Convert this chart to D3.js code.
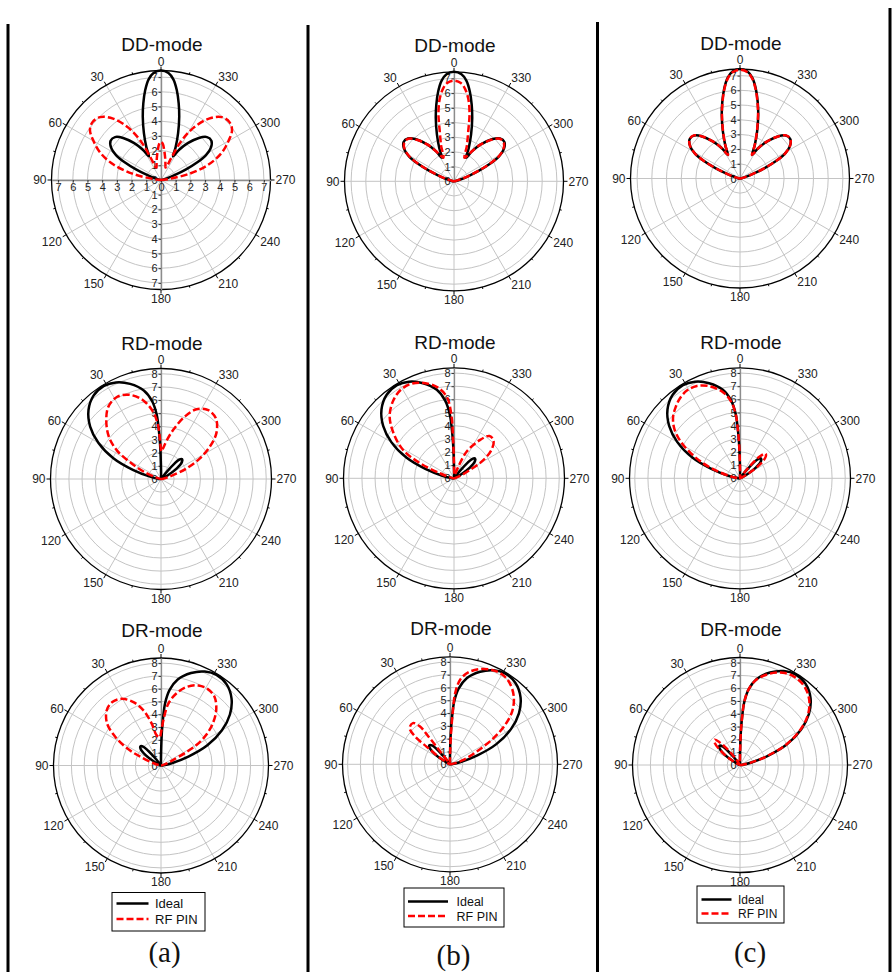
<!DOCTYPE html>
<html>
<head>
<meta charset="utf-8">
<script src="https://cdn.jsdelivr.net/npm/d3@7"></script>
<style>
  body { margin: 0; background: #fff; }
  svg { display: block; font-family: "Liberation Sans", Arial, sans-serif; }
</style>
</head>
<body>
<div id="chart"></div>
<script>
// angles are in degrees, counter-clockwise from the top (0 = up, 90 = left, 270 = right)
var angleTicks = [0, 30, 60, 90, 120, 150, 180, 210, 240, 270, 300, 330];
var modes = ["DD-mode", "RD-mode", "DR-mode"];
var columnLabels = ["(a)", "(b)", "(c)"];
var seriesNames = ["Ideal", "RF PIN"];
var radialMax = [7.45, 8.4, 8.4];

// ideal patterns (same in all three columns), [angle, value]
var ddIdeal = [[270,0],[280,0.1],[286,0.45],[290,1.05],[293,1.85],[296,2.75],[299,3.5],[303,4.05],[308,4.35],[313,4.28],[318,3.85],[324,3.1],[329,2.4],[333,1.8],[336,2.45],[340,3.4],[344,4.5],[347,5.35],[350,6.2],[353,6.9],[356,7.3],
  [0,7.45],[4,7.3],[7,6.9],[10,6.2],[13,5.35],[16,4.5],[20,3.4],[24,2.45],[27,1.8],[31,2.4],[36,3.1],[42,3.85],[47,4.28],[52,4.35],[57,4.05],[61,3.5],[64,2.75],[67,1.85],[70,1.05],[74,0.45],[80,0.1],[90,0]];

var rdIdeal = [[270,0],[290,0.02],[296,0.15],[299,0.6],[304,1.45],[309,2.05],[313,2.2],[317,2.0],[319,1.5],[321,0.8],[324,0.15],[330,0.02],[355,0.02],[358.5,0.2],
  [0.5,1.2],[1.5,2.6],[2.5,3.7],[3.8,4.9],[6.5,5.95],[11,6.85],[18,7.6],[25,8.1],[31.5,8.3],[39,8.15],[46.5,7.6],[53.5,6.7],[60,5.5],[66.5,3.95],[72,2.25],[78,0.85],[84,0.2],[90,0]];

var drIdeal = [[270,0],[276,0.2],[282,0.85],[288,2.25],[293.5,3.95],[300,5.5],[306.5,6.7],[313.5,7.6],[321,8.15],[328.5,8.3],[335,8.1],[342,7.6],[349,6.85],[353.5,5.95],[356.2,4.9],[357.5,3.7],[358.5,2.6],[359.5,1.2],
  [1.5,0.2],[5,0.02],[30,0.02],[36,0.15],[39,0.8],[41,1.5],[43,2.0],[47,2.2],[51,2.05],[56,1.45],[61,0.6],[64,0.15],[70,0.02],[90,0]];

// RF PIN patterns, one per panel
var ddPinA = [[270,0],[274,0.15],[278,0.65],[282.5,2.0],[288,3.4],[294,4.5],[300,5.3],[305,5.9],[310,6.1],[316,5.95],[322,5.3],[328,4.2],[332.5,3.0],[335,1.7],[337,1.0],[340,0.9],[344,1.1],[348,1.4],[351,1.7],[354,2.05],[357,2.45],
  [0,2.6],[3,2.45],[6,2.05],[9,1.7],[12,1.4],[16,1.1],[20,0.9],[23,1.0],[25,1.7],[27.5,3.0],[32,4.2],[38,5.3],[44,5.95],[50,6.1],[55,5.9],[60,5.3],[66,4.5],[72,3.4],[77.5,2.0],[82,0.65],[86,0.15],[90,0]];

var ddPinB = [[270,0],[280,0.1],[286,0.4],[290,1.0],[293,1.8],[296,2.7],[299,3.45],[303,4.0],[308,4.3],[313,4.25],[318,3.8],[324,3.1],[329,2.4],[332,2.0],[336,1.75],[340,2.55],[344,3.5],[347,4.7],[350,5.65],[353,6.3],[356,6.7],
  [0,6.85],[4,6.7],[7,6.3],[10,5.65],[13,4.7],[16,3.5],[20,2.55],[24,1.75],[28,2.0],[31,2.4],[36,3.1],[42,3.8],[47,4.25],[52,4.3],[57,4.0],[61,3.45],[64,2.7],[67,1.8],[70,1.0],[74,0.4],[80,0.1],[90,0]];

var ddPinC = [[270,0],[280,0.1],[286,0.45],[290,1.05],[293,1.85],[296,2.75],[299,3.5],[303,4.05],[308,4.35],[313,4.3],[318,3.85],[324,3.1],[329,2.4],[333,1.8],[336,2.45],[340,3.35],[344,4.45],[347,5.3],[350,6.15],[353,6.85],[356,7.25],
  [0,7.4],[4,7.25],[7,6.85],[10,6.15],[13,5.3],[16,4.45],[20,3.35],[24,2.45],[27,1.8],[31,2.4],[36,3.1],[42,3.85],[47,4.3],[52,4.35],[57,4.05],[61,3.5],[64,2.75],[67,1.85],[70,1.05],[74,0.45],[80,0.1],[90,0]];

var rdPinA = [[270,0],[280,0.15],[284,0.45],[288,1.0],[292.5,2.1],[298,3.35],[303.5,4.45],[309.5,5.45],[317.5,6.2],[325.5,6.35],[333,5.95],[339,5.1],[346,3.85],[352,2.9],[356,2.35],[359,2.1],
  [1.5,3.0],[3,4.0],[6.5,5.1],[12.5,6.1],[20,6.8],[28,7.08],[36,6.8],[43,6.1],[51,5.1],[57,4.0],[62,2.55],[68,1.2],[73,0.35],[80,0.05],[90,0]];

var rdPinB = [[270,0],[285,0.1],[291,0.5],[297.5,1.35],[301,2.45],[307,3.55],[313.5,4.15],[320,4.2],[326,3.5],[334.5,2.25],[339.5,0.95],[344,0.35],[352,0.25],[358,0.4],
  [0.5,1.6],[1.5,3.3],[2.2,4.65],[5,6.2],[10.5,7.05],[17.5,7.6],[24,7.88],[31,7.85],[38,7.5],[46,6.8],[53.5,5.7],[61,4.4],[66,2.85],[70.5,1.15],[76,0.3],[85,0.05],[90,0]];

var rdPinC = [[270,0],[290,0.02],[296,0.2],[300,0.8],[305,1.9],[310,2.55],[314,2.7],[318,2.2],[320,1.6],[322,0.9],[325,0.2],[330,0.02],[355,0.02],[358.5,0.2],
  [0.5,1.2],[1.5,2.6],[2.5,3.7],[3.8,4.85],[6.5,5.85],[11,6.65],[18,7.35],[25,7.75],[31,7.8],[37,7.6],[42,7.3],[47.5,6.9],[53,6.25],[58,5.35],[63,4.2],[67.5,3.1],[72,1.95],[78,0.75],[84,0.15],[90,0]];

var drPinA = [[270,0],[280,0.05],[288,0.35],[292,0.7],[295,1.1],[297.5,2.1],[300,3.2],[304,4.25],[309,5.2],[315,6.1],[322,6.8],[328.5,7.0],[335,6.9],[342,6.45],[348,5.75],[353.3,4.85],[357,3.55],[359.5,2.7],
  [3,2.2],[8.5,2.4],[12.5,3.35],[17.5,4.5],[23.5,5.4],[30.5,6.05],[37.5,6.25],[44.5,6.05],[52,5.35],[58,4.2],[63,3.0],[67,1.75],[73,0.6],[80,0.1],[90,0]];

var drPinB = [[270,0],[280,0.2],[288,1.1],[295.5,2.3],[300.5,3.8],[305,5.15],[310.5,6.4],[317,7.3],[324,7.9],[330,8.12],[336,8.07],[342.5,7.8],[348.5,7.35],[353,6.7],[355.8,5.6],[357,4.0],[358,2.6],[359,1.2],
  [0.5,0.3],[10,0.05],[34,0.2],[37.5,1.3],[37.8,2.6],[38.5,3.8],[42,4.33],[48,4.24],[51.5,3.5],[53,2.3],[56.5,1.1],[60,0.35],[66,0.05],[90,0]];

var drPinC = [[270,0],[276,0.2],[282,0.8],[288,2.15],[293.5,3.85],[300,5.4],[306.5,6.6],[313.5,7.45],[321,7.95],[328.5,8.1],[335,7.95],[342,7.5],[349,6.8],[353.5,5.95],[356.2,4.9],[357.5,3.7],[358.5,2.6],[359.5,1.2],
  [1.5,0.2],[5,0.02],[30,0.02],[33,0.2],[36,0.9],[39,1.7],[42,2.4],[45,2.8],[49,2.6],[53,2.0],[57,1.3],[61,0.6],[65,0.1],[70,0.02],[90,0]];

var idealSeries = [ddIdeal, rdIdeal, drIdeal];
var pinSeries = [[ddPinA, ddPinB, ddPinC], [rdPinA, rdPinB, rdPinC], [drPinA, drPinB, drPinC]];

var svgWidth = 894;
var svgHeight = 972;
// outer radius of each row's polar plots
var rowRadius = [109.5, 110.5, 107.5];

var svg = d3.select("#chart")
  .append("svg")
  .attr("width", svgWidth)
  .attr("height", svgHeight);

// panel centres, row = mode, col = (a)(b)(c)
var centres = [
  [[161, 180], [454, 181.3], [740, 178.5]],
  [[161, 479], [454, 478.3], [740, 478.3]],
  [[161, 765.5], [450, 764.3], [740, 765]]
];

// column separators
var separators = [[8, 24], [308, 25], [597.5, 22], [890, 8]];
svg.selectAll(".sep")
  .data(separators)
  .enter()
  .append("line")
  .attr("x1", d => d[0]).attr("x2", d => d[0])
  .attr("y1", d => d[1]).attr("y2", svgHeight)
  .attr("stroke", "#000")
  .attr("stroke-width", 3);

var angle = d3.scaleLinear().domain([0, 360]).range([0, -2 * Math.PI]);

function px(deg, rad) { return rad * Math.sin(angle(deg)); }
function py(deg, rad) { return -rad * Math.cos(angle(deg)); }

function drawPanel(row, col) {
  var c = centres[row][col];
  var rmax = radialMax[row];
  var R = rowRadius[row];
  var radius = d3.scaleLinear().domain([0, rmax]).range([0, R]);
  var g = svg.append("g").attr("transform", `translate(${c[0]}, ${c[1]})`);

  // title
  g.append("text")
    .attr("x", 1)
    .attr("y", -129)
    .attr("text-anchor", "middle")
    .attr("font-size", 19)
    .attr("fill", "#111")
    .text(modes[row]);

  // grid rings
  g.append("g").selectAll("circle")
    .data(d3.range(1, Math.floor(rmax) + 1))
    .enter()
    .append("circle")
    .attr("r", d => radius(d))
    .attr("fill", "none")
    .attr("stroke", "#c4c4c4")
    .attr("stroke-width", 1);

  // spokes
  g.append("g").selectAll("line")
    .data(angleTicks)
    .enter()
    .append("line")
    .attr("x2", d => px(d, R))
    .attr("y2", d => py(d, R))
    .attr("stroke", "#c4c4c4")
    .attr("stroke-width", 1);

  // outer circle with ticks
  g.append("circle")
    .attr("r", R)
    .attr("fill", "none")
    .attr("stroke", "#000")
    .attr("stroke-width", 1.3);

  g.append("g").selectAll("line")
    .data(d3.range(0, 360, 15))
    .enter()
    .append("line")
    .attr("x1", d => px(d, R))
    .attr("y1", d => py(d, R))
    .attr("x2", d => px(d, R + (d % 30 === 0 ? 4 : 2)))
    .attr("y2", d => py(d, R + (d % 30 === 0 ? 4 : 2)))
    .attr("stroke", "#000")
    .attr("stroke-width", 1);

  // angle labels
  g.append("g").selectAll("text")
    .data(angleTicks)
    .enter()
    .append("text")
    .attr("x", d => px(d, R + 5))
    .attr("y", d => py(d, R + 5))
    .attr("text-anchor", function(d) {
      var s = Math.sin(angle(d));
      return s < -0.1 ? "end" : (s > 0.1 ? "start" : "middle");
    })
    .attr("dy", function(d) {
      var k = Math.cos(angle(d));
      return k > 0.7 ? "0" : (k < -0.3 ? "0.7em" : "0.35em");
    })
    .attr("font-size", 12)
    .attr("fill", "#222")
    .text(d => d);

  // radial axis
  if (row === 0 && col === 0) {
    var vScale = d3.scaleLinear().domain([-rmax, rmax]).range([R, -R]);
    var hScale = d3.scaleLinear().domain([-rmax, rmax]).range([-R, R]);
    var ticks = d3.range(-7, 8);
    var vAxis = g.append("g")
      .call(d3.axisLeft(vScale).tickValues(ticks).tickFormat(d => Math.abs(d))
        .tickSize(2.5).tickSizeOuter(0).tickPadding(1));
    var hAxis = g.append("g")
      .call(d3.axisBottom(hScale).tickValues(ticks).tickFormat(d => Math.abs(d))
        .tickSize(2.5).tickSizeOuter(0).tickPadding(1));
    [vAxis, hAxis].forEach(function(ax) {
      ax.attr("font-family", null).attr("font-size", 11);
      ax.select(".domain").attr("stroke", "#8c8c8c").attr("stroke-width", 1.4);
      ax.selectAll(".tick line").attr("stroke", "#333");
      ax.selectAll(".tick text").attr("fill", "#222");
    });
  } else {
    var rScale = d3.scaleLinear().domain([0, rmax]).range([0, -R]);
    var rAxis = g.append("g")
      .call(d3.axisLeft(rScale).tickValues(d3.range(0, Math.floor(rmax) + 1))
        .tickSize(2.5).tickSizeOuter(0).tickPadding(1));
    rAxis.attr("font-family", null).attr("font-size", 11);
    rAxis.select(".domain").attr("stroke", "#8c8c8c").attr("stroke-width", 1.3);
    rAxis.selectAll(".tick line").attr("stroke", "#333");
    rAxis.selectAll(".tick text").attr("fill", "#222");
  }

  // pattern curves
  var line = d3.lineRadial()
    .angle(d => angle(d[0]))
    .radius(d => radius(d[1]))
    .curve(d3.curveCatmullRom.alpha(0.5));

  g.append("path")
    .datum(idealSeries[row])
    .attr("d", line)
    .attr("fill", "none")
    .attr("stroke", "#000")
    .attr("stroke-width", 2.5)
    .attr("stroke-linejoin", "round");

  g.append("path")
    .datum(pinSeries[row][col])
    .attr("d", line)
    .attr("fill", "none")
    .attr("stroke", "#ff0000")
    .attr("stroke-width", 2.5)
    .attr("stroke-dasharray", "7,3");
}

for (var row = 0; row < 3; row++) {
  for (var col = 0; col < 3; col++) {
    drawPanel(row, col);
  }
}

// legends
var legends = [
  {x: 112, y: 892.5, w: 93, h: 38.5, x1: 116.5, x2: 148.5, y1: 903.5, y2: 919, tx: 155, fs: 13},
  {x: 404, y: 888, w: 100, h: 39, x1: 408, x2: 448, y1: 901.5, y2: 916, tx: 456.5, fs: 12.5},
  {x: 697, y: 886, w: 87, h: 37, x1: 701.5, x2: 731.5, y1: 899.5, y2: 913.5, tx: 738, fs: 12}
];

legends.forEach(function(L) {
  var lg = svg.append("g");
  lg.append("rect")
    .attr("x", L.x).attr("y", L.y)
    .attr("width", L.w).attr("height", L.h)
    .attr("fill", "#fff")
    .attr("stroke", "#000")
    .attr("stroke-width", 1);
  lg.append("line")
    .attr("x1", L.x1).attr("x2", L.x2)
    .attr("y1", L.y1).attr("y2", L.y1)
    .attr("stroke", "#000").attr("stroke-width", 2.5);
  lg.append("line")
    .attr("x1", L.x1).attr("x2", L.x2)
    .attr("y1", L.y2).attr("y2", L.y2)
    .attr("stroke", "#ff0000").attr("stroke-width", 2.5)
    .attr("stroke-dasharray", "7,3");
  lg.selectAll("text")
    .data(seriesNames)
    .enter()
    .append("text")
    .attr("x", L.tx)
    .attr("y", (d, i) => (i === 0 ? L.y1 : L.y2))
    .attr("dy", "0.36em")
    .attr("font-size", L.fs)
    .attr("fill", "#111")
    .text(d => d);
});

// column captions
var captionPos = [[164.5, 962], [453.5, 965], [750, 962]];
svg.selectAll(".caption")
  .data(columnLabels)
  .enter()
  .append("text")
  .attr("x", (d, i) => captionPos[i][0])
  .attr("y", (d, i) => captionPos[i][1])
  .attr("text-anchor", "middle")
  .attr("font-family", "'Liberation Serif', 'Times New Roman', serif")
  .attr("font-size", 29)
  .attr("fill", "#111")
  .text(d => d);
</script>
</body>
</html>
